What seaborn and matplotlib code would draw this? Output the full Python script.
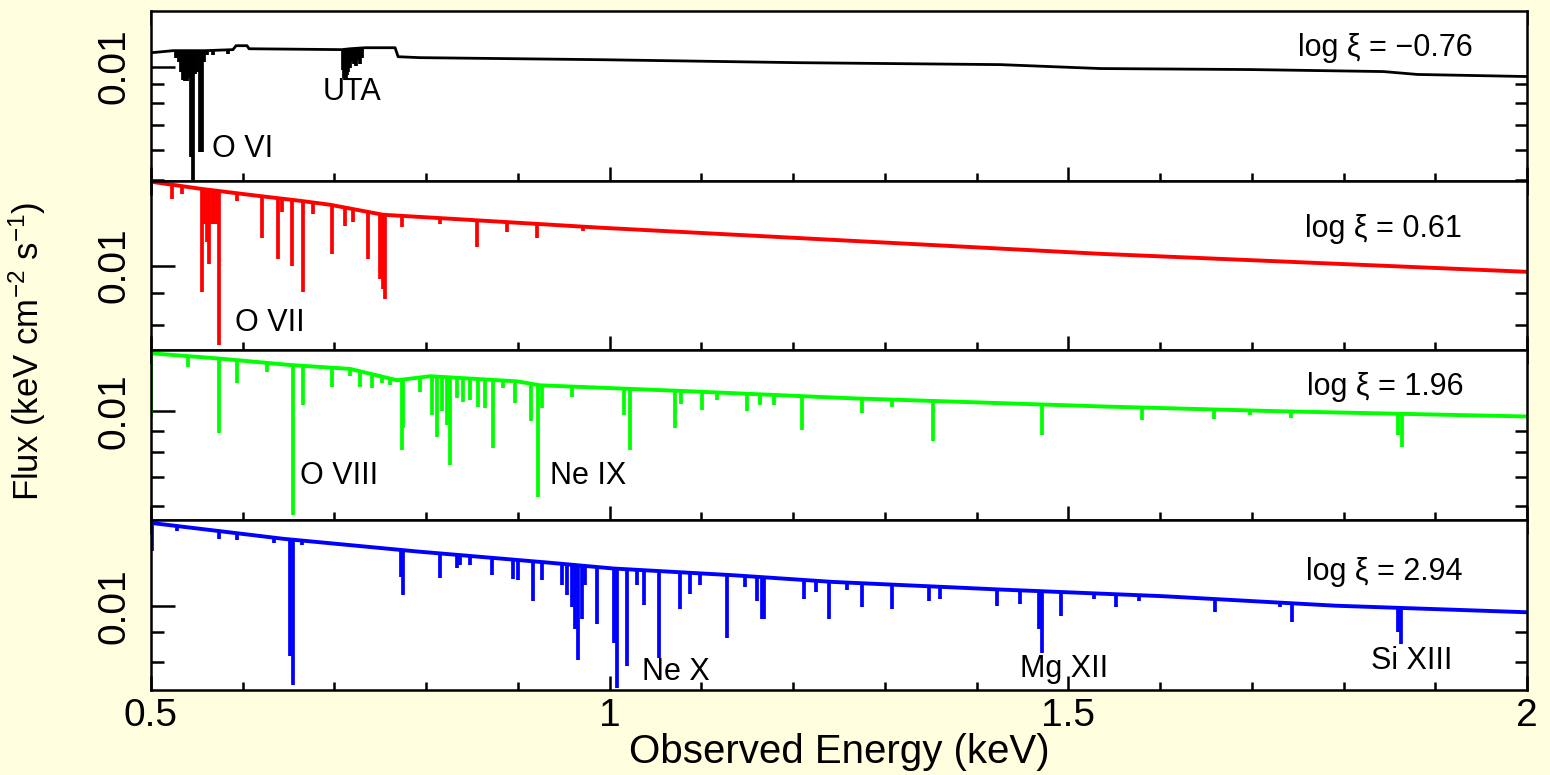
import numpy as np
import matplotlib
matplotlib.use("Agg")
import matplotlib.pyplot as plt
import seaborn as sns
from matplotlib.ticker import FixedLocator, NullFormatter, MultipleLocator, LogLocator

# ---------------- data ----------------
# energies in keV, fluxes in keV cm^-2 s^-1
panel_labels = ["log \u03be = \u22120.76", "log \u03be = 0.61", "log \u03be = 1.96", "log \u03be = 2.94"]
panel_colors = ["#000000", "#ff0000", "#00ff00", "#0000ff"]
panel_ylims = [(0.00498, 0.01404), (0.00725, 0.0138), (0.00554, 0.0139), (0.00714, 0.0141)]

# log xi = -0.76 (black)
black_cont_E = [0.5, 0.524, 0.5589, 0.5894, 0.5927, 0.6047, 0.6069, 0.7083, 0.717, 0.7334, 0.7661, 0.7694,
                0.7933, 0.9896, 1.207, 1.426, 1.535, 1.698, 1.8435, 1.8806, 2.0]
black_cont_F = [0.01088, 0.01102, 0.01102, 0.01109, 0.01136, 0.01136, 0.01115, 0.01109, 0.01115, 0.01122,
                0.01122, 0.01062, 0.01056, 0.01043, 0.01024, 0.01012, 0.00988, 0.00982, 0.0097, 0.00953, 0.00941]
black_line_E = [0.5273, 0.5305, 0.5327, 0.5349, 0.5371, 0.5393, 0.5414, 0.5436, 0.5458, 0.5480, 0.5502,
                0.5534, 0.5556, 0.5578, 0.5611, 0.5676, 0.5840,
                0.7094, 0.7105, 0.7116, 0.7127, 0.7137, 0.7148, 0.7170, 0.7192, 0.7214, 0.7236, 0.7257,
                0.7279, 0.7301]
black_line_F = [0.01056, 0.01031, 0.00970, 0.00924, 0.00913, 0.00913, 0.00935, 0.00576, 0.00490, 0.00953,
                0.00970, 0.00594, 0.00594, 0.01031, 0.01075, 0.01075, 0.01082,
                0.00982, 0.00935, 0.00924, 0.00924, 0.00947, 0.00970, 0.00994, 0.01031, 0.01018, 0.01006,
                0.01043, 0.01018, 0.01056]

# log xi = 0.61 (red)
red_cont_E = [0.5, 0.5534, 0.608, 0.6625, 0.6952, 0.753, 0.826, 0.9896, 1.535, 2.0]
red_cont_F = [0.01375, 0.01339, 0.01308, 0.01279, 0.01260, 0.01213, 0.01195, 0.01155, 0.01046, 0.00977]
red_line_E = [0.5226, 0.5335, 0.5553, 0.5580, 0.5607, 0.5636, 0.5665, 0.5692, 0.5720, 0.5742, 0.5941,
              0.6207, 0.6388, 0.6425, 0.6534, 0.6654, 0.6770, 0.6971, 0.7116, 0.7206, 0.7370, 0.7497,
              0.7533, 0.7552, 0.7734, 0.8152, 0.8552, 0.8879, 0.9206, 0.9711]
red_line_F = [0.01289, 0.01314, 0.00906, 0.01170, 0.01095, 0.01008, 0.01172, 0.01172, 0.01172, 0.00739,
              0.01280, 0.01110, 0.01027, 0.01227, 0.00999, 0.00906, 0.01218, 0.01046, 0.01164, 0.01181,
              0.01027, 0.00952, 0.00917, 0.00883, 0.01158, 0.01172, 0.01073, 0.01136, 0.01110, 0.01142]

# log xi = 1.96 (green)
green_cont_E = [0.5, 0.572, 0.6516, 0.717, 0.7683, 0.8043, 0.8991, 0.9242, 1.0802, 1.2623, 1.5393, 1.7312, 2.0]
green_cont_F = [0.01369, 0.01332, 0.01285, 0.01258, 0.01183, 0.01209, 0.01176, 0.01151, 0.01116, 0.01073,
                0.01026, 0.01000, 0.00972]
green_line_E = [0.5005, 0.5407, 0.5745, 0.5941, 0.6262, 0.6545, 0.6661, 0.6971, 0.7170, 0.7279, 0.7407,
                0.7516, 0.7606, 0.7734, 0.7751, 0.7933, 0.8061, 0.8122, 0.8170, 0.8225, 0.8261, 0.8334,
                0.8406, 0.8479, 0.8569, 0.8642, 0.8733, 0.8842, 0.8969, 0.9144, 0.9224, 0.9261, 0.9588,
                1.0151, 1.0224, 1.0714, 1.0780, 1.1005, 1.1169, 1.1496, 1.1641, 1.1786, 1.2096, 1.2368,
                1.2754, 1.3081, 1.3522, 1.4714, 1.5805, 1.6588, 1.6981, 1.7423, 1.8588, 1.8639]
green_line_F = [0.00963, 0.01274, 0.00888, 0.01164, 0.01235, 0.00570, 0.01035, 0.01143, 0.01209, 0.01143,
                0.01137, 0.01164, 0.01153, 0.00811, 0.00912, 0.01112, 0.00980, 0.00872, 0.01000, 0.00928,
                0.00748, 0.01073, 0.01054, 0.01063, 0.01026, 0.01016, 0.00818, 0.01133, 0.01044, 0.00947,
                0.00630, 0.01016, 0.01083, 0.00980, 0.00811, 0.00912, 0.01040, 0.01007, 0.01063, 0.01000,
                0.01035, 0.01035, 0.00904, 0.01073, 0.00989, 0.01026, 0.00851, 0.00877, 0.00954, 0.00959,
                0.00980, 0.00963, 0.00880, 0.00822]

# log xi = 2.94 (blue)
blue_cont_E = [0.5, 0.644, 0.7901, 0.9351, 1.0038, 1.1347, 1.2437, 1.4259, 1.6025, 1.7912, 2.0]
blue_cont_F = [0.01395, 0.01309, 0.01244, 0.01189, 0.01162, 0.01131, 0.01101, 0.01068, 0.01040, 0.01001, 0.00975]
blue_line_E = [0.5008, 0.5280, 0.5745, 0.5941, 0.6341, 0.6516, 0.6545, 0.6643, 0.7722, 0.7751, 0.8152,
               0.8334, 0.8370, 0.8479, 0.8715, 0.8951, 0.9006, 0.9169, 0.9261, 0.9479, 0.9533, 0.9588,
               0.9624, 0.9660, 0.9697, 0.9733, 0.9860, 1.0049, 1.0078, 1.0188, 1.0297, 1.0369, 1.0533,
               1.0769, 1.0878, 1.0987, 1.1278, 1.1478, 1.1605, 1.1660, 1.1678, 1.2114, 1.2250, 1.2386,
               1.2587, 1.2750, 1.3077, 1.3477, 1.3600, 1.4222, 1.4469, 1.4676, 1.4713, 1.4920, 1.5277,
               1.5522, 1.5767, 1.6593, 1.7309, 1.7440, 1.8380, 1.8588, 1.8624]
blue_line_F = [0.01244, 0.01349, 0.01309, 0.01304, 0.01286, 0.00817, 0.00728, 0.01278, 0.01124, 0.01046,
               0.01119, 0.01166, 0.01178, 0.01178, 0.01131, 0.01116, 0.01108, 0.01022, 0.01108, 0.01086,
               0.01043, 0.00995, 0.00911, 0.00806, 0.00949, 0.01086, 0.00930, 0.00863, 0.00719, 0.00785,
               0.01086, 0.01004, 0.00812, 0.00988, 0.01050, 0.01086, 0.00881, 0.01079, 0.01022, 0.00949,
               0.00949, 0.01029, 0.01057, 0.00949, 0.01064, 0.00995, 0.00988, 0.01022, 0.01029, 0.01000,
               0.01008, 0.00911, 0.00829, 0.00961, 0.01029, 0.00995, 0.01018, 0.00975, 0.00995, 0.00936,
               0.00988, 0.00900, 0.00857]

ion_labels = [
    [("O VI", 0.5665, 0.00605), ("UTA", 0.6873, 0.00854)],
    [("O VII", 0.5916, 0.00806)],
    [("O VIII", 0.6625, 0.00703), ("Ne IX", 0.9351, 0.00703)],
    [("Ne X", 1.0351, 0.00768), ("Mg XII", 1.4477, 0.00777), ("Si XIII", 1.8304, 0.00803)],
]
xi_label_pos = [(1.8457, 0.01122), (1.8435, 0.01150), (1.8457, 0.01139), (1.8446, 0.01148)]

x_major_ticks = [0.5, 1.0, 1.5, 2.0]
x_major_labels = ["0.5", "1", "1.5", "2"]

panels = [
    (black_cont_E, black_cont_F, black_line_E, black_line_F),
    (red_cont_E, red_cont_F, red_line_E, red_line_F),
    (green_cont_E, green_cont_F, green_line_E, green_line_F),
    (blue_cont_E, blue_cont_F, blue_line_E, blue_line_F),
]

# ---------------- styling ----------------
sns.set_theme(style="ticks")
plt.rcParams['font.family'] = ['Liberation Sans', 'DejaVu Sans']
plt.rcParams['mathtext.fontset'] = 'custom'
plt.rcParams['mathtext.rm'] = 'Liberation Sans'
plt.rcParams['mathtext.it'] = 'Liberation Sans:italic'
plt.rcParams['mathtext.default'] = 'regular'
plt.rcParams['axes.edgecolor'] = 'black'
plt.rcParams['axes.linewidth'] = 1.8
plt.rcParams['text.color'] = 'black'
plt.rcParams['axes.labelcolor'] = 'black'
plt.rcParams['xtick.color'] = 'black'
plt.rcParams['ytick.color'] = 'black'
plt.rcParams['xtick.labelcolor'] = 'black'
plt.rcParams['ytick.labelcolor'] = 'black'

fig, axes = plt.subplots(4, 1, figsize=(15.5, 7.75), dpi=100, sharex=True)
fig.patch.set_facecolor('#FFFFE0')
fig.subplots_adjust(left=0.0974, right=0.9852, top=0.9858, bottom=0.1097, hspace=0)

for i, ax in enumerate(axes):
    cE, cF, lE, lF = panels[i]
    color = panel_colors[i]
    lo, hi = panel_ylims[i]
    ax.set_facecolor('white')
    ax.set_yscale('log')
    ax.set_xlim(0.5, 2.0)
    ax.set_ylim(lo, hi)

    lw_c = 2.0 if i == 0 else 2.8
    # absorption lines
    ax.vlines(lE, lF, hi, colors=color, linewidth=2.7, zorder=1, capstyle='butt')
    # mask everything above the continuum
    ax.fill_between(cE, cF, hi, color='white', linewidth=0, zorder=2)
    # continuum
    sns.lineplot(x=cE, y=cF, color=color, linewidth=lw_c, ax=ax, zorder=3,
                 sort=False, estimator=None, legend=False)

    # ticks
    ax.set_yticks([0.01])
    ax.set_yticklabels(["0.01"])
    ax.yaxis.set_minor_locator(LogLocator(base=10, subs=np.arange(2, 10), numticks=20))
    ax.yaxis.set_minor_formatter(NullFormatter())
    ax.xaxis.set_major_locator(FixedLocator(x_major_ticks))
    ax.xaxis.set_minor_locator(MultipleLocator(0.1))
    ax.tick_params(which='both', direction='in', top=True, right=True, width=1.8,
                   color='black', labelcolor='black')
    ax.tick_params(axis='y', which='major', length=17, pad=13, labelsize=28, labelrotation=90)
    ax.tick_params(axis='y', which='minor', length=9)
    ax.tick_params(axis='x', which='major', length=10, pad=6, labelsize=28)
    ax.tick_params(axis='x', which='minor', length=6)
    for lab in ax.get_yticklabels():
        lab.set_va('center')
    for sp in ax.spines.values():
        sp.set_linewidth(1.8)
        sp.set_color('black')
        sp.set_zorder(5)

    for txt, xE, yF in ion_labels[i]:
        ax.text(xE, yF, txt, ha='left', va='center', fontsize=22, color='black', zorder=6)
    xx, yy = xi_label_pos[i]
    ax.text(xx, yy, panel_labels[i], ha='center', va='center', fontsize=22, color='black', zorder=6)
    ax.set_ylabel("")

axes[-1].set_xticks(x_major_ticks)
axes[-1].set_xticklabels(x_major_labels)
axes[-1].set_xlabel("Observed Energy (keV)", fontsize=29, labelpad=-1, color='black')
fig.text(0.0174, 0.546, r"Flux (keV cm$^{-2}$ s$^{-1}$)", rotation=90, ha='center', va='center',
         fontsize=25, color='black')

fig.savefig("out.png", dpi=100, facecolor=fig.get_facecolor())
